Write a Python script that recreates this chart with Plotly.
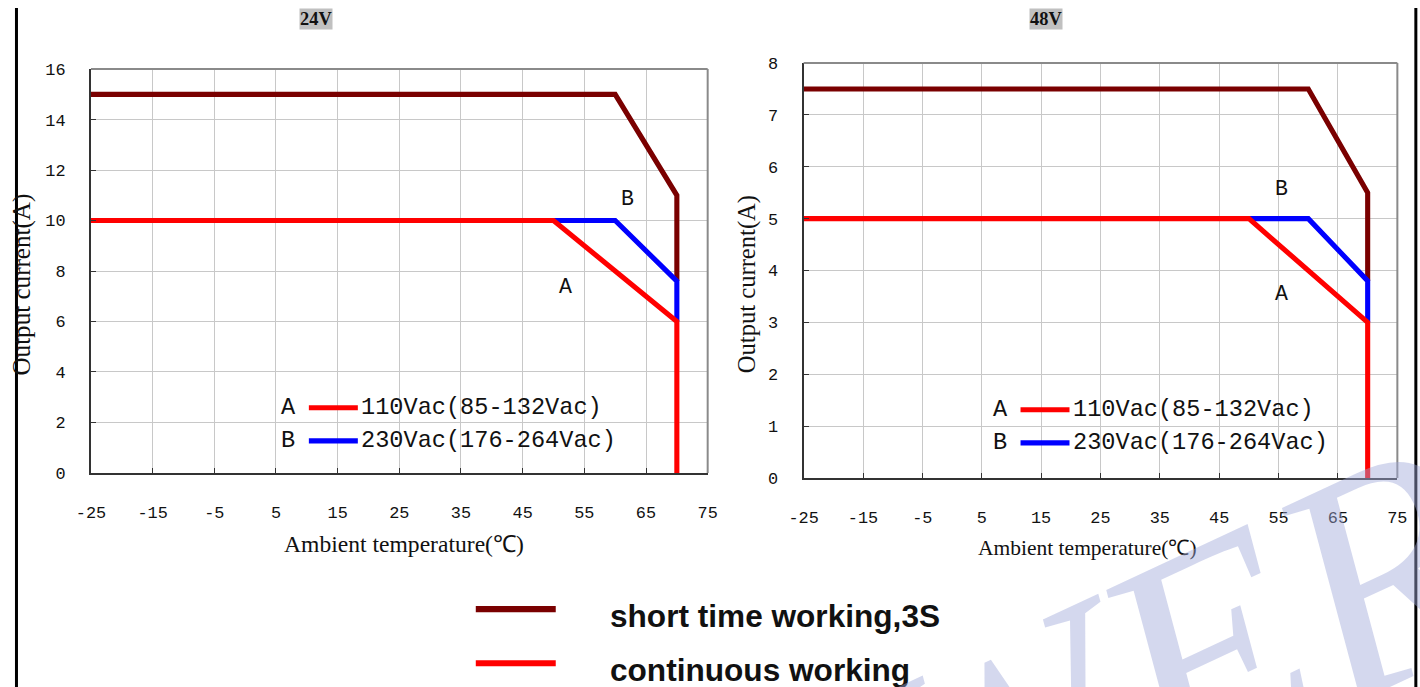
import plotly.graph_objects as go

# ---------------- data ----------------
temp_ticks = [-25, -15, -5, 5, 15, 25, 35, 45, 55, 65, 75]

# 24V chart
t_short_24 = [-25, 60, 70, 70]
i_short_24 = [15, 15, 11, 7.6]
t_b_24 = [50, 60, 70, 70]
i_b_24 = [10, 10, 7.6, 6]
t_a_24 = [-25, 50, 70, 70]
i_a_24 = [10, 10, 6, 0]

# 48V chart
t_short_48 = [-25, 60, 70, 70]
i_short_48 = [7.5, 7.5, 5.5, 3.8]
t_b_48 = [50, 60, 70, 70]
i_b_48 = [5, 5, 3.8, 3]
t_a_48 = [-25, 50, 70, 70]
i_a_48 = [5, 5, 3, 0]

titles = ["24V", "48V"]
legend_a = "110Vac(85-132Vac)"
legend_b = "230Vac(176-264Vac)"
legend_short = "short time working,3S"
legend_cont = "continuous working"

BROWN = "#7a0000"
RED = "#ff0000"
BLUE = "#0000ff"

# mapping from target picture pixels to figure pixels (measured on the render)
SX, OX = 0.983, 14.0
SY, OY = 0.971, 8.0
FW, FH = 1432, 700
FS = 1.024  # font / width compensation


def px(x):
    return ((x - OX) / SX) / FW


def py(y):
    return 1 - ((y - OY) / SY) / FH


def fs(v):
    return round(v * FS, 1)


fig = go.Figure()


def add_series(xa, ya, tshort, ishort, tb, ib, ta, ia):
    for (xs, ys, col) in [(tshort, ishort, BROWN), (tb, ib, BLUE), (ta, ia, RED)]:
        fig.add_trace(go.Scatter(x=xs, y=ys, mode="lines", xaxis=xa, yaxis=ya,
                                 line=dict(color=col, width=fs(5)), showlegend=False,
                                 hoverinfo="skip"))


add_series("x", "y", t_short_24, i_short_24, t_b_24, i_b_24, t_a_24, i_a_24)
add_series("x2", "y2", t_short_48, i_short_48, t_b_48, i_b_48, t_a_48, i_a_48)

tickfont = dict(family="Liberation Mono", size=fs(16.5), color="#111")
xcommon = dict(range=[-25, 75], tickmode="array", tickvals=temp_ticks,
               ticktext=[str(v) for v in temp_ticks],
               showgrid=True, gridcolor="#c8c8c8", gridwidth=1,
               showline=True, linecolor="#333", linewidth=2,
               ticks="inside", ticklen=5, tickcolor="#333",
               tickfont=tickfont, ticklabelstandoff=23, zeroline=False, fixedrange=True)
ycommon = dict(showgrid=True, gridcolor="#c8c8c8", gridwidth=1,
               showline=True, linecolor="#333", linewidth=2,
               ticks="inside", ticklen=5, tickcolor="#333",
               tickfont=tickfont, ticklabelstandoff=20, zeroline=False, fixedrange=True)

L1, R1, T1, B1 = 90, 707, 69, 472
L2, R2, T2, B2 = 803, 1397, 63, 477

fig.update_layout(
    width=FW, height=FH,
    margin=dict(l=0, r=0, t=0, b=0),
    paper_bgcolor="white", plot_bgcolor="white",
    xaxis=dict(domain=[px(L1), px(R1)], anchor="y", **xcommon),
    yaxis=dict(domain=[py(B1), py(T1)], anchor="x", range=[0, 16], tickmode="linear",
               tick0=0, dtick=2, **ycommon),
    xaxis2=dict(domain=[px(L2), px(R2)], anchor="y2", **xcommon),
    yaxis2=dict(domain=[py(B2), py(T2)], anchor="x2", range=[0, 8], tickmode="linear",
                tick0=0, dtick=1, **ycommon),
    showlegend=False,
)

shapes = []
# grey top/right frame
for (l, r, t, b) in [(L1, R1, T1, B1), (L2, R2, T2, B2)]:
    shapes.append(dict(type="line", xref="paper", yref="paper", x0=px(l), x1=px(r),
                       y0=py(t), y1=py(t), line=dict(color="#8a8a8a", width=2)))
    shapes.append(dict(type="line", xref="paper", yref="paper", x0=px(r), x1=px(r),
                       y0=py(t), y1=py(b), line=dict(color="#8a8a8a", width=2)))

# outer black borders (left/right)
shapes.append(dict(type="line", xref="paper", yref="paper", x0=1.5 / FW, x1=1.5 / FW, y0=0, y1=1,
                   line=dict(color="black", width=3)))
shapes.append(dict(type="line", xref="paper", yref="paper", x0=px(1415.5), x1=px(1415.5), y0=0, y1=1,
                   line=dict(color="black", width=3)))

annotations = []
mono = "Liberation Mono"
serif = "Liberation Serif"

# in-plot legends
for (lx, ty) in [(278, 407), (990, 409)]:
    for k, (letter, col, txt) in enumerate([("A", RED, legend_a), ("B", BLUE, legend_b)]):
        yy = ty + 33 * k
        annotations.append(dict(x=px(lx), y=py(yy), xref="paper", yref="paper", text=letter,
                                showarrow=False, xanchor="left", yanchor="middle",
                                font=dict(family=mono, size=fs(23), color="#111")))
        shapes.append(dict(type="line", xref="paper", yref="paper", x0=px(lx + 30), x1=px(lx + 79),
                           y0=py(yy), y1=py(yy), line=dict(color=col, width=fs(5))))
        annotations.append(dict(x=px(lx + 80), y=py(yy), xref="paper", yref="paper", text=txt,
                                showarrow=False, xanchor="left", yanchor="middle",
                                font=dict(family=mono, size=fs(23), color="#111")))

# curve labels A / B
for (xa, ya, bx, by, ax, ay) in [("x", "y", 62, 10.85, 52, 7.35), ("x2", "y2", 55.5, 5.57, 55.5, 3.54)]:
    annotations.append(dict(x=bx, y=by, xref=xa, yref=ya, text="B", showarrow=False,
                            font=dict(family=mono, size=fs(21), color="#111")))
    annotations.append(dict(x=ax, y=ay, xref=xa, yref=ya, text="A", showarrow=False,
                            font=dict(family=mono, size=fs(21), color="#111")))

# axis titles
for (cx, cy, sz) in [(21, 284, 24.5), (746, 284, 24)]:
    annotations.append(dict(x=px(cx), y=py(cy), xref="paper", yref="paper",
                            text="Output current(A)", textangle=-90, showarrow=False,
                            xanchor="center", yanchor="middle",
                            font=dict(family=serif, size=fs(sz), color="#111")))
for (cx, cy, sz) in [(403, 543, 23), (1087, 547, 21)]:
    annotations.append(dict(x=px(cx), y=py(cy), xref="paper", yref="paper",
                            text="Ambient temperature(℃)", showarrow=False,
                            xanchor="center", yanchor="middle",
                            font=dict(family=serif, size=fs(sz), color="#111")))

# titles with grey boxes
for (cx, t) in [(315.5, titles[0]), (1045, titles[1])]:
    annotations.append(dict(x=px(cx), y=1, xref="paper", yref="paper", text="<b>%s</b>" % t,
                            showarrow=False, bgcolor="#c0c0c0", borderpad=0,
                            xanchor="center", yanchor="top",
                            font=dict(family=serif, size=fs(18), color="#111")))

# bottom legend
for (yy, col, txt) in [(608, BROWN, legend_short), (662, RED, legend_cont)]:
    shapes.append(dict(type="line", xref="paper", yref="paper", x0=px(475), x1=px(555),
                       y0=py(yy), y1=py(yy), line=dict(color=col, width=fs(6))))
    annotations.append(dict(x=px(607), y=py(yy + 7), xref="paper", yref="paper", text="<b>%s</b>" % txt,
                            showarrow=False, xanchor="left", yanchor="middle",
                            font=dict(family="Liberation Sans", size=fs(30.9), color="#111")))

# watermark
annotations.append(dict(x=px(1175), y=py(668), xref="paper", yref="paper", text="<i>WER</i>",
                        showarrow=False, textangle=-25, xanchor="center", yanchor="middle",
                        font=dict(family=serif, size=fs(310), color="rgba(160,168,218,0.45)")))

fig.update_layout(shapes=shapes, annotations=annotations)

fig.write_html("out.html")
